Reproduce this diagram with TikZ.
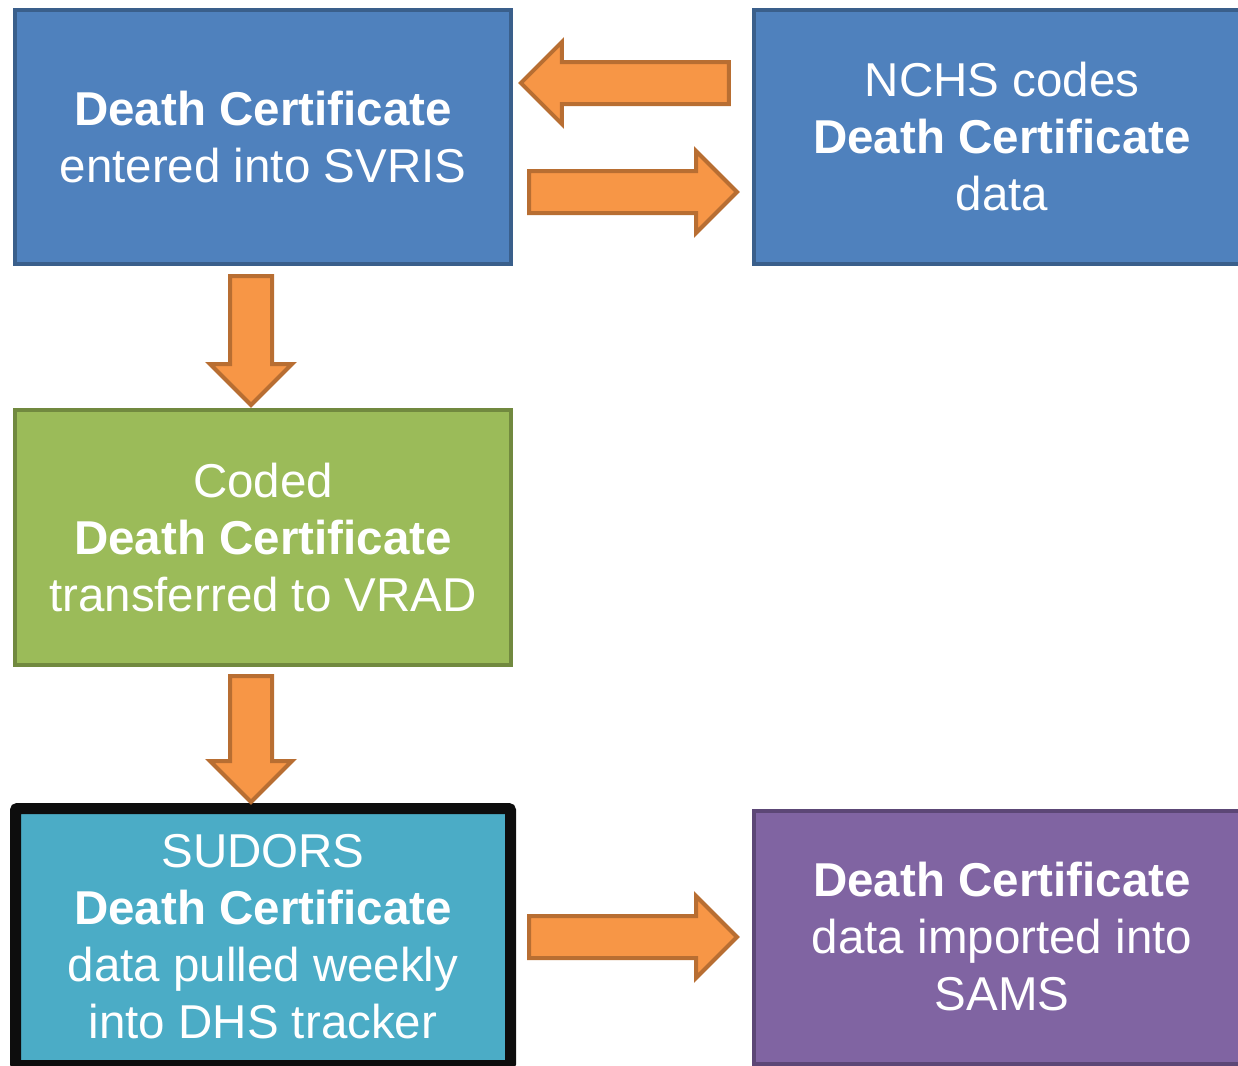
\documentclass[tikz,border=0pt]{standalone}
\usepackage{fontspec}
\setmainfont{Liberation Sans}
\usepackage{tikz}
\usetikzlibrary{positioning,shapes.arrows}
\definecolor{certblue}{HTML}{4F81BD}
\definecolor{certblueline}{HTML}{3A5F8B}
\definecolor{codedgreen}{HTML}{9BBB59}
\definecolor{codedgreenline}{HTML}{71893F}
\definecolor{sudorscyan}{HTML}{4BACC6}
\definecolor{sudorsline}{HTML}{0D0D0D}
\definecolor{samspurple}{HTML}{8064A2}
\definecolor{samspurpleline}{HTML}{5C4776}
\definecolor{flowfill}{HTML}{F79646}
\definecolor{flowline}{HTML}{B86E32}

\begin{document}
\begin{tikzpicture}[x=1pt, y=-1pt,
    stepnode/.style={rectangle, line width=4pt, minimum width=496pt, minimum height=254pt, align=center, text=white, inner sep=0pt, font=\fontsize{47.5}{57}\selectfont},
    bluenode/.style={stepnode, draw=certblueline, fill=certblue},
    greennode/.style={stepnode, draw=codedgreenline, fill=codedgreen, minimum height=255pt},
    cyannode/.style={stepnode, draw=sudorsline, fill=sudorscyan, line width=11pt, minimum width=495pt, minimum height=257pt, rounded corners=2pt},
    purplenode/.style={stepnode, draw=samspurpleline, fill=samspurple, minimum height=253pt},
    flowarrow/.style={single arrow, draw=flowline, fill=flowfill, line width=4pt, inner xsep=0pt, inner ysep=19pt, single arrow head extend=20pt, minimum height=208pt},
    downarrow/.style={flowarrow, shape border rotate=270, inner xsep=19pt, inner ysep=0pt}
]
\useasboundingbox (0,0) rectangle (1238,1065);
\clip (0,0) rectangle (1238,1065);
\node[bluenode](cert) at (263,137){\textbf{Death Certificate}\\entered into SVRIS};
\node[bluenode](nchs)[right=239pt of cert]{NCHS codes\\\textbf{Death Certificate}\\data};
\node[greennode](coded)[below=142pt of cert]{Coded\\\textbf{Death Certificate}\\transferred to VRAD};
\node[cyannode](sudors)[below=136pt of coded]{SUDORS\\\textbf{Death Certificate}\\data pulled weekly\\into DHS tracker};
\node[purplenode](sams)[right=236pt of sudors]{\textbf{Death Certificate}\\data imported into\\SAMS};
\node[flowarrow, shape border rotate=180, anchor=tip](back) at ([xshift=5pt, yshift=54pt]cert.east){};
\node[flowarrow, anchor=tail](fwd) at ([xshift=14pt, yshift=-55pt]cert.east){};
\node[downarrow, anchor=tail, minimum height=129pt](down) at ([xshift=-12pt, yshift=-8pt]cert.south){};
\node[downarrow, anchor=tail, minimum height=126pt](down2) at ([xshift=-12pt, yshift=-7pt]coded.south){};
\node[flowarrow, anchor=tail](fwd2) at ([xshift=11pt]sudors.east){};
\end{tikzpicture}
\end{document}
